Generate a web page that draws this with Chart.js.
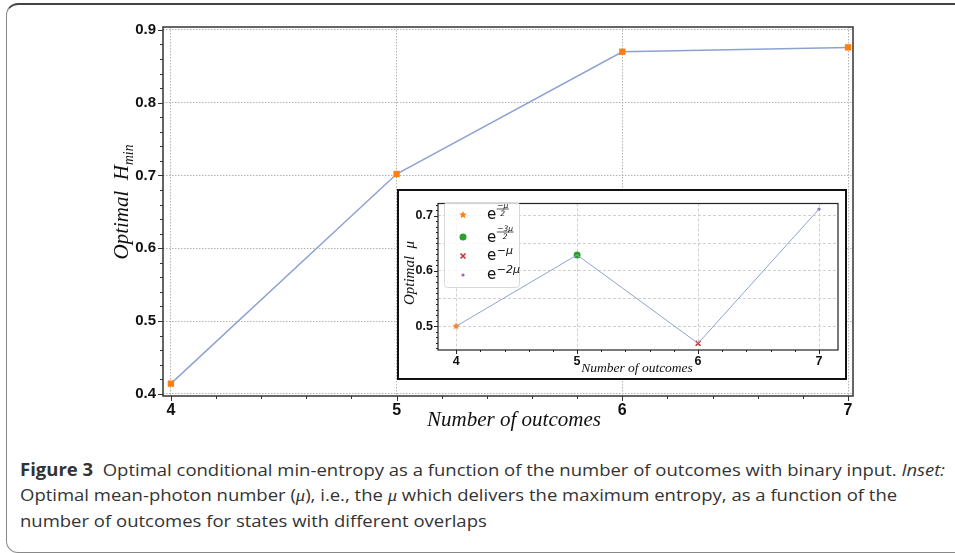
<!DOCTYPE html>
<html>
<head>
<meta charset="utf-8">
<script src="https://cdn.jsdelivr.net/npm/chart.js@4.4.1/dist/chart.umd.min.js"></script>
<style>
body{margin:0;width:955px;height:553px;overflow:hidden;background:#fff;position:relative;font-family:"Open Sans",sans-serif}
#frame{position:absolute;left:6px;top:3px;width:1100px;height:550px;box-sizing:border-box;border:1.5px solid #888;border-top:2px solid #444;border-radius:12px}
#main{position:absolute;left:0;top:0;width:955px;height:440px}
#inset{position:absolute;left:397px;top:189px;width:446px;height:187px;border:2px solid #111;background:#fff}
#cap{position:absolute;left:20px;top:457px;font-size:17px;line-height:25px;color:#333;transform-origin:0 0;white-space:nowrap}
#cap .ln{display:block}
#cap span{display:inline-block}
.mu{font-family:"Liberation Serif",serif;font-style:italic}
</style>
</head>
<body>
<div id="frame"></div>
<div id="main"><canvas id="mainChart"></canvas></div>
<div id="inset"><canvas id="insetChart"></canvas></div>
<div id="cap">
  <div class="ln"><span id="ln1"><b>Figure 3</b>&nbsp; Optimal conditional min-entropy as a function of the number of outcomes with binary input. <i>Inset:</i></span></div>
  <div class="ln"><span>Optimal mean-photon number (<span class="mu">μ</span>), i.e., the <span class="mu">μ</span> which delivers the maximum entropy, as a function of the</span></div>
  <div class="ln"><span>number of outcomes for states with different overlaps</span></div>
</div>
<script>
// data
const outcomes = [4, 5, 6, 7];
const hMin = [0.414, 0.702, 0.870, 0.876];
const optimalMu = [0.500, 0.629, 0.469, 0.712];
const mainYTicks = [0.4, 0.5, 0.6, 0.7, 0.8, 0.9];
const insetYTicks = [0.5, 0.55, 0.6, 0.65, 0.7];
const insetYLabels = [0.5, 0.6, 0.7];
// legend exponents: e^(sup) or e^(num/den)
const overlapLabels = [
  {sup: '−μ', den: '2'},
  {sup: '−3μ', den: '2'},
  {sup: '−μ'},
  {sup: '−2μ'}
];

// squeeze caption so the first line fits the column
const ln1 = document.getElementById('ln1');
document.getElementById('cap').style.transform = 'scaleX(' + (925 / ln1.getBoundingClientRect().width) + ')';

function starCanvas(color, r) {
  const c = document.createElement('canvas');
  c.width = c.height = r * 2 + 2;
  const g = c.getContext('2d');
  g.fillStyle = color;
  g.beginPath();
  for (let i = 0; i < 10; i++) {
    const rr = i % 2 ? r * 0.45 : r;
    const a = -Math.PI / 2 + i * Math.PI / 5;
    g.lineTo(r + 1 + rr * Math.cos(a), r + 1 + rr * Math.sin(a));
  }
  g.closePath();
  g.fill();
  return c;
}

// frame round the plot area, major / minor ticks, axis titles
const axisDecor = {
  id: 'axisDecor',
  beforeDatasetsDraw(chart, args, o) {
    const {ctx, chartArea: a, scales: {x, y}} = chart;
    ctx.save();
    ctx.strokeStyle = o.color;
    ctx.lineWidth = o.width;
    ctx.strokeRect(a.left, a.top, a.right - a.left, a.bottom - a.top);
    ctx.lineWidth = 1;
    const doTicks = (scale, step, majors, isX) => {
      for (let i = Math.ceil(scale.min / step - 1e-6); i * step <= scale.max + 1e-9; i++) {
        const v = i * step;
        const len = majors.some(m => Math.abs(m - v) < 1e-6) ? o.major : o.minor;
        const p = Math.round(scale.getPixelForValue(v)) + 0.5;
        ctx.beginPath();
        if (isX) { ctx.moveTo(p, a.bottom); ctx.lineTo(p, a.bottom + len); }
        else { ctx.moveTo(a.left, p); ctx.lineTo(a.left - len, p); }
        ctx.stroke();
      }
    };
    doTicks(x, o.xStep, o.xMajor, true);
    doTicks(y, o.yStep, o.yMajor, false);
    ctx.restore();
  },
  afterDraw(chart, args, o) {
    const ctx = chart.ctx;
    ctx.save();
    ctx.fillStyle = '#111';
    ctx.textAlign = 'center';
    ctx.textBaseline = 'alphabetic';
    ctx.font = 'italic ' + o.xTitleSize + 'px "Liberation Serif"';
    ctx.fillText(o.xTitle, o.xTitleX, o.xTitleY);
    // rotated y title with optional subscript
    ctx.translate(o.yTitleX, o.yTitleY);
    ctx.rotate(-Math.PI / 2);
    ctx.font = 'italic ' + o.titleSize + 'px "Liberation Serif"';
    const wMain = ctx.measureText(o.yTitle).width;
    let wSub = 0;
    const subFont = 'italic ' + (o.titleSize * 0.65) + 'px "Liberation Serif"';
    if (o.ySub) {
      ctx.font = subFont;
      wSub = ctx.measureText(o.ySub).width;
    }
    const start = -(wMain + wSub) / 2;
    ctx.textAlign = 'left';
    ctx.font = 'italic ' + o.titleSize + 'px "Liberation Serif"';
    ctx.fillText(o.yTitle, start, o.titleSize * 0.35);
    if (o.ySub) {
      ctx.font = subFont;
      ctx.fillText(o.ySub, start + wMain, o.titleSize * 0.57);
    }
    ctx.restore();
  }
};

const tickFont = size => ({family: '"Liberation Sans", Arial, sans-serif', weight: 'bold', size: size});

new Chart(document.getElementById('mainChart'), {
  type: 'line',
  data: {
    datasets: [{
      data: outcomes.map((v, i) => ({x: v, y: hMin[i]})),
      borderColor: '#8ea2d2',
      borderWidth: 1.5,
      pointStyle: 'rect',
      pointRadius: 4.5,
      pointBackgroundColor: '#ff7f0e',
      pointBorderColor: '#ff7f0e',
      pointBorderWidth: 0
    }]
  },
  options: {
    responsive: true,
    maintainAspectRatio: false,
    animation: false,
    layout: {padding: {top: 27, right: 102, left: 0, bottom: 0}},
    plugins: {
      legend: {display: false},
      tooltip: {enabled: false},
      axisDecor: {
        color: '#333', width: 1.5, major: 5, minor: 3,
        xStep: 0.2, xMajor: outcomes, yStep: 0.02, yMajor: mainYTicks,
        titleSize: 21, xTitleSize: 21, xTitle: 'Number of outcomes', xTitleX: 514, xTitleY: 426,
        yTitle: 'Optimal  H', ySub: 'min', yTitleX: 121, yTitleY: 202
      }
    },
    scales: {
      x: {
        type: 'linear', min: 3.965, max: 7.022,
        afterBuildTicks: s => { s.ticks = outcomes.map(v => ({value: v})); },
        afterFit: s => { s.height = 44; },
        grid: {color: '#b4b4b4', drawTicks: false},
        border: {display: false, dash: [1.5, 1.5]},
        ticks: {padding: 5, color: '#111', font: tickFont(16)}
      },
      y: {
        type: 'linear', min: 0.397, max: 0.904,
        afterBuildTicks: s => { s.ticks = mainYTicks.map(v => ({value: v})); },
        afterFit: s => { s.width = 163; },
        grid: {color: '#b4b4b4', drawTicks: false},
        border: {display: false, dash: [1.5, 1.5]},
        ticks: {padding: 7, color: '#111', font: tickFont(15), callback: v => v.toFixed(1)}
      }
    }
  },
  plugins: [axisDecor]
});

// inset legend drawn from the marker datasets
const insetLegend = {
  id: 'insetLegend',
  afterDraw(chart, args, o) {
    const ctx = chart.ctx;
    ctx.save();
    ctx.fillStyle = 'rgba(255,255,255,0.8)';
    ctx.strokeStyle = '#d8d8d8';
    ctx.lineWidth = 1;
    ctx.beginPath();
    ctx.roundRect(o.x + 0.5, o.y + 0.5, o.w, o.h, 3);
    ctx.fill();
    ctx.stroke();
    chart.data.datasets.slice(1).forEach((ds, i) => {
      const my = o.markerY[i];
      if (ds.pointStyle instanceof HTMLCanvasElement) {
        ctx.drawImage(ds.pointStyle, o.markerX - ds.pointStyle.width / 2, my - ds.pointStyle.height / 2);
      } else {
        ctx.fillStyle = ds.pointBackgroundColor;
        ctx.strokeStyle = ds.pointBorderColor;
        ctx.lineWidth = ds.pointBorderWidth;
        Chart.helpers.drawPoint(ctx, {pointStyle: ds.pointStyle, radius: ds.pointRadius, borderWidth: ds.pointBorderWidth, rotation: 0}, o.markerX, my);
      }
      const lab = overlapLabels[i];
      const base = o.textY[i];
      ctx.fillStyle = '#111';
      ctx.textAlign = 'left';
      ctx.textBaseline = 'alphabetic';
      ctx.font = '15px "DejaVu Sans"';
      ctx.fillText('e', o.textX, base);
      const sx = o.textX + ctx.measureText('e').width + 0.5;
      if (lab.den) {
        ctx.font = 'italic 7.5px "DejaVu Sans"';
        const wn = ctx.measureText(lab.sup).width;
        const wd = ctx.measureText(lab.den).width;
        const w = Math.max(wn, wd) + 1;
        const bar = base - 10;
        ctx.fillText(lab.sup, sx + (w - wn) / 2, bar - 1.3);
        ctx.fillText(lab.den, sx + (w - wd) / 2, bar + 6.5);
        ctx.strokeStyle = '#111';
        ctx.lineWidth = 0.7;
        ctx.beginPath();
        ctx.moveTo(sx, bar);
        ctx.lineTo(sx + w, bar);
        ctx.stroke();
      } else {
        ctx.font = 'italic 11px "DejaVu Sans"';
        ctx.fillText(lab.sup, sx, base - 6.5);
      }
    });
    ctx.restore();
  }
};

new Chart(document.getElementById('insetChart'), {
  type: 'scatter',
  data: {
    datasets: [
      {
        data: outcomes.map((v, i) => ({x: v, y: optimalMu[i]})),
        showLine: true, borderColor: '#8ea2d2', borderWidth: 1, pointRadius: 0
      },
      {
        data: [{x: outcomes[0], y: optimalMu[0]}],
        pointStyle: starCanvas('#ff7f0e', 4), pointRadius: 4
      },
      {
        data: [{x: outcomes[1], y: optimalMu[1]}],
        pointStyle: 'circle', pointRadius: 3.5, pointBackgroundColor: '#2ca02c', pointBorderColor: '#2ca02c', pointBorderWidth: 0
      },
      {
        data: [{x: outcomes[2], y: optimalMu[2]}],
        pointStyle: 'crossRot', pointRadius: 3.5, pointBackgroundColor: '#d62728', pointBorderColor: '#d62728', pointBorderWidth: 1.5
      },
      {
        data: [{x: outcomes[3], y: optimalMu[3]}],
        pointStyle: 'circle', pointRadius: 1.6, pointBackgroundColor: '#9467bd', pointBorderColor: '#9467bd', pointBorderWidth: 0
      }
    ]
  },
  options: {
    responsive: true,
    maintainAspectRatio: false,
    animation: false,
    layout: {padding: {top: 5, right: 7, left: 0, bottom: 0}},
    plugins: {
      legend: {display: false},
      tooltip: {enabled: false},
      axisDecor: {
        color: '#222', width: 1.2, major: 4, minor: 2,
        xStep: 0.2, xMajor: outcomes, yStep: 0.01, yMajor: insetYLabels,
        titleSize: 15, xTitleSize: 13.5, xTitle: 'Number of outcomes', xTitleX: 238, xTitleY: 181,
        yTitle: 'Optimal  μ', yTitleX: 10, yTitleY: 82
      },
      insetLegend: {
        x: 45, y: 11, w: 75, h: 85, markerX: 64,
        markerY: [24, 46, 65, 84], textX: 88, textY: [28, 51, 69, 88]
      }
    },
    scales: {
      x: {
        type: 'linear', min: 3.85, max: 7.157,
        afterBuildTicks: s => { s.ticks = outcomes.map(v => ({value: v})); },
        afterFit: s => { s.height = 28; },
        grid: {color: '#d0d0d0', drawTicks: false},
        border: {display: false, dash: [3, 2]},
        ticks: {padding: 4, color: '#111', font: tickFont(12.5)}
      },
      y: {
        type: 'linear', min: 0.457, max: 0.722,
        afterBuildTicks: s => { s.ticks = insetYTicks.map(v => ({value: v})); },
        afterFit: s => { s.width = 39; },
        grid: {color: '#d0d0d0', drawTicks: false},
        border: {display: false, dash: [3, 2]},
        ticks: {
          padding: 5, color: '#111', font: tickFont(12.5), autoSkip: false,
          callback: v => insetYLabels.some(m => Math.abs(m - v) < 1e-6) ? v.toFixed(1) : ''
        }
      }
    }
  },
  plugins: [axisDecor, insetLegend]
});
</script>
</body>
</html>
